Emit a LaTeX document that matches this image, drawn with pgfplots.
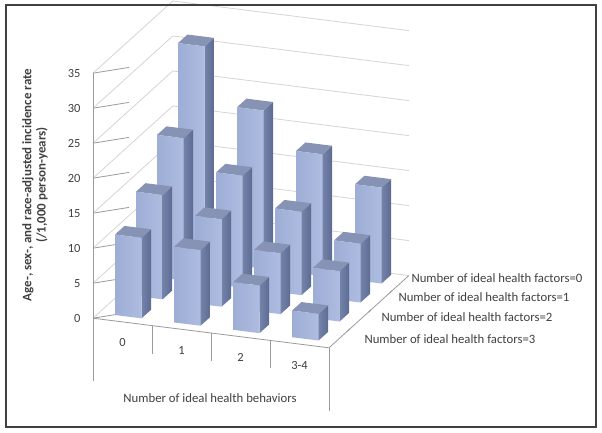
\documentclass[border=0pt]{standalone}
\usepackage{pgfplots}
\pgfplotsset{compat=1.18}
\usepackage{pgfplotstable}
\usetikzlibrary{calc}
\usepackage{fontspec}
\setmainfont{Carlito}
\definecolor{gridc}{HTML}{DAD2D2}
\definecolor{axisc}{HTML}{9A9A9A}
\definecolor{txtc}{HTML}{404040}
\definecolor{frontL}{HTML}{9DADD5}
\definecolor{frontM}{HTML}{C6D1EE}
\definecolor{frontR}{HTML}{AEBCE0}
\definecolor{sideL}{HTML}{7483AA}
\definecolor{sideR}{HTML}{5E6C92}
\definecolor{topc}{HTML}{8793B4}

% b = number of ideal health behaviors (0,1,2,3 = "3-4")
% r = depth row (3 = factors 0 at back, 0 = factors 3 at front)
\pgfplotstableread{
b r h
0 3 30.7
1 3 22.6
2 3 17.4
3 3 13.7
0 2 20.3
1 2 16.0
2 2 11.9
3 2 8.4
0 1 14.9
1 1 12.5
2 1 8.7
3 1 7.2
0 0 11.5
1 0 10.8
2 0 6.8
3 0 3.8
}\rates

\newcommand\cuboid[3]{%
  \pgfmathsetmacro\xa{#1-0.225}\pgfmathsetmacro\xb{#1+0.225}%
  \pgfmathsetmacro\ya{#2-0.225}\pgfmathsetmacro\yb{#2+0.225}%
  \edef\temp{%
    \noexpand\addplot3[draw=none,left color=sideL,right color=sideR] coordinates {(\xb,\ya,0) (\xb,\yb,0) (\xb,\yb,#3) (\xb,\ya,#3)} -- cycle;
    \noexpand\addplot3[draw=none,fill=topc] coordinates {(\xa,\ya,#3) (\xb,\ya,#3) (\xb,\yb,#3) (\xa,\yb,#3)} -- cycle;
    \noexpand\addplot3[draw=none,left color=frontL,middle color=frontM,right color=frontR] coordinates {(\xa,\ya,0) (\xb,\ya,0) (\xb,\ya,#3) (\xa,\ya,#3)} -- cycle;
  }\temp}

\newcommand\tickfont{\fontsize{12.5}{14}\selectfont}
\newcommand\labfont{\fontsize{12.8}{15}\selectfont}

\begin{document}
\begin{tikzpicture}[x=1bp,y=1bp]
\begin{axis}[
  x={(59bp,-7.4bp)}, y={(21bp,19bp)}, z={(0bp,7bp)},
  xmin=-0.5, xmax=3.5, ymin=-0.5, ymax=3.3, zmin=0, zmax=35,
  hide axis, clip=false,
]
\coordinate (O) at (axis cs:0,0,0);
% walls
\pgfplotsinvokeforeach{0,5,...,35}{%
  \draw[gridc, line width=0.8bp] (axis cs:-0.5,-0.5,#1) -- (axis cs:-0.5,3.3,#1) -- (axis cs:3.5,3.3,#1);
}
% vertical axis
\draw[axisc, line width=0.8bp] (axis cs:-0.5,-0.5,0) -- (axis cs:-0.5,-0.5,35);
\pgfplotsinvokeforeach{0,5,...,35}{%
  \draw[axisc, line width=0.8bp] (axis cs:-0.5,-0.5,#1) -- ++(-4bp,0);
  \node[anchor=east, text=txtc, font=\tickfont] at ([xshift=-9bp]axis cs:-0.5,-0.5,#1) {#1};
}
% floor edges and category box
\draw[axisc, line width=0.8bp] (axis cs:-0.5,-0.5,0) -- (axis cs:3.5,-0.5,0) -- (axis cs:3.5,3.3,0);
\pgfplotsinvokeforeach{0.5,1.5,2.5}{%
  \draw[axisc, line width=0.8bp] (axis cs:3.5,#1,0) -- ++(-2.5bp,-2.5bp);
}
\draw[axisc, line width=0.8bp] (axis cs:-0.5,-0.5,0) -- (axis cs:-0.5,-0.5,-9);
\draw[axisc, line width=0.8bp] (axis cs:3.5,-0.5,0) -- (axis cs:3.5,-0.5,-9);
\draw[axisc, line width=0.8bp] (axis cs:0.5,-0.5,0) -- (axis cs:0.5,-0.5,-4);
\draw[axisc, line width=0.8bp] (axis cs:1.5,-0.5,0) -- (axis cs:1.5,-0.5,-4);
\draw[axisc, line width=0.8bp] (axis cs:2.5,-0.5,0) -- (axis cs:2.5,-0.5,-4);
\node[text=txtc, font=\tickfont] at (axis cs:0,-0.5,-3) {0};
\node[text=txtc, font=\tickfont] at (axis cs:1,-0.5,-3) {1};
\node[text=txtc, font=\tickfont] at (axis cs:2,-0.5,-3) {2};
\node[text=txtc, font=\tickfont] at (axis cs:3,-0.5,-3) {3-4};
% bars, back rows first
\pgfplotsinvokeforeach{0,...,15}{%
  \pgfplotstablegetelem{#1}{b}\of\rates \let\bb\pgfplotsretval
  \pgfplotstablegetelem{#1}{r}\of\rates \let\rr\pgfplotsretval
  \pgfplotstablegetelem{#1}{h}\of\rates \let\hh\pgfplotsretval
  \cuboid{\bb}{\rr}{\hh}
}
\end{axis}
\begin{scope}[shift={($(O)+(-133bp,-120.6bp)$)}]
\pgfresetboundingbox
\useasboundingbox (0,0) rectangle (602,433);
\node[text=txtc, font=\labfont] at (210,35) {Number of ideal health behaviors};
\node[anchor=west, text=txtc, font=\labfont] at (408,155) {Number of ideal health factors=0};
\node[anchor=west, text=txtc, font=\labfont] at (395,136) {Number of ideal health factors=1};
\node[anchor=west, text=txtc, font=\labfont] at (378,116) {Number of ideal health factors=2};
\node[anchor=west, text=txtc, font=\labfont] at (361,94) {Number of ideal health factors=3};
\node[rotate=90, align=center, text=txtc, font=\bfseries\fontsize{13}{14.5}\selectfont] at (35,248)
  {Age-, sex-, and race-adjusted incidence rate\\(/1,000 person-years)};
\draw[line width=1.5bp, color=black!75] (6,6) rectangle (596,428);
\end{scope}
\end{tikzpicture}
\end{document}
